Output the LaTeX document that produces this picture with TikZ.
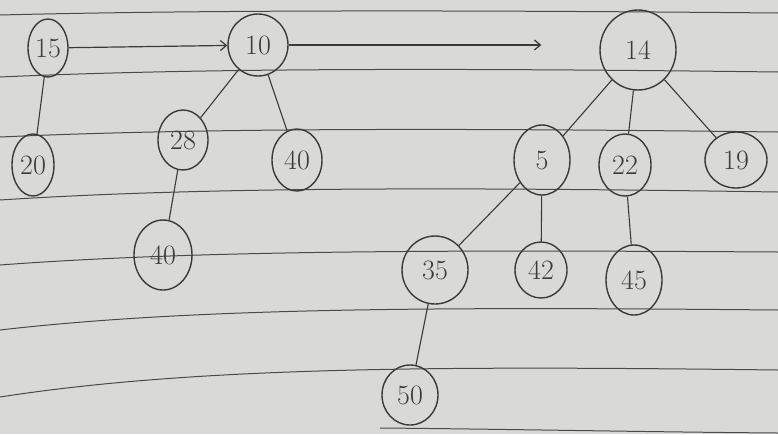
\documentclass[tikz,border=0pt]{standalone}
\usetikzlibrary{shapes.geometric,arrows.meta}
\definecolor{paper}{HTML}{D9D9D7}
\definecolor{rule}{HTML}{4A4A4A}
\definecolor{pencil}{HTML}{3A3A3A}
\begin{document}
\begin{tikzpicture}[x=1pt,y=-1pt,
  keynode/.style={ellipse,draw=pencil,line width=1.4pt,inner sep=0pt,
    text=pencil,font=\fontsize{28}{28}\selectfont},
  link/.style={draw=pencil,line width=1.1pt},
  nextptr/.style={draw=pencil,line width=1.2pt,-{Straight Barb[length=6pt,width=10pt]}},
  paperline/.style={draw=rule,line width=1pt}]
\useasboundingbox (0,0) rectangle (778,434);
\fill[paper] (0,0) rectangle (778,434);
% ruled lines
\foreach \a/\b/\c in {15/10/13,77/68/72,137/128/132,200/187/192,265/250/252,330/307/310,397/366/370}{
  \draw[paperline] (0,\a) .. controls (200,\b) and (450,\b) .. (778,\c);
}
\draw[paperline] (380,428) .. controls (500,429) and (650,432) .. (778,433);
% first tree
\node[keynode,minimum width=40pt,minimum height=58pt] (n15) at (48,48) {15};
\node[keynode,minimum width=42pt,minimum height=62pt] (n20) at (33,165) {20};
% second tree
\node[keynode,minimum width=60pt,minimum height=62pt] (n10) at (258,45) {10};
\node[keynode,minimum width=50pt,minimum height=60pt] (n28) at (183,140) {28};
\node[keynode,minimum width=50pt,minimum height=62pt] (n40r) at (297,160) {40};
\node[keynode,minimum width=58pt,minimum height=70pt] (n40b) at (163,255) {40};
% third tree
\node[keynode,minimum width=76pt,minimum height=80pt] (n14) at (638,50) {14};
\node[keynode,minimum width=56pt,minimum height=70pt] (n5) at (542,160) {5};
\node[keynode,minimum width=52pt,minimum height=62pt] (n22) at (625,165) {22};
\node[keynode,minimum width=62pt,minimum height=56pt] (n19) at (736,160) {19};
\node[keynode,minimum width=66pt,minimum height=68pt] (n35) at (435,270) {35};
\node[keynode,minimum width=52pt,minimum height=56pt] (n42) at (541,270) {42};
\node[keynode,minimum width=56pt,minimum height=70pt] (n45) at (634,280) {45};
\node[keynode,minimum width=56pt,minimum height=60pt] (n50) at (410,395) {50};
% root list pointers
\draw[nextptr] (n15) -- (n10);
\draw[nextptr] (n10.east) -- ([xshift=-58pt]n14.west |- n10.east);
% tree edges
\draw[link] (n15) -- (n20);
\draw[link] (n10) -- (n28);
\draw[link] (n10) -- (n40r);
\draw[link] (n28) -- (n40b);
\draw[link] (n14) -- (n5);
\draw[link] (n14) -- (n22);
\draw[link] (n14) -- (n19);
\draw[link] (n5) -- (n35);
\draw[link] (n5) -- (n42);
\draw[link] (n22) -- (n45);
\draw[link] (n35) -- (n50);
\end{tikzpicture}
\end{document}
